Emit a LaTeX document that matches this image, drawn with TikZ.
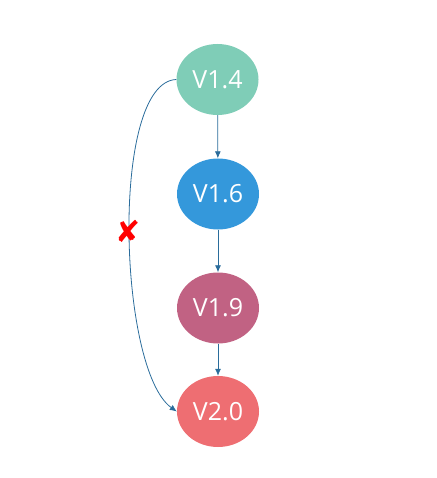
\documentclass[tikz,border=0pt]{standalone}
\usepackage{fontspec}
\setmainfont{Open Sans}
\newfontfamily\symfont{DejaVu Sans}
\usetikzlibrary{shapes.geometric,arrows.meta}
\definecolor{cA}{HTML}{7FCDB7}
\definecolor{cB}{HTML}{3498DB}
\definecolor{cC}{HTML}{C16283}
\definecolor{cD}{HTML}{EE6E72}
\definecolor{edge}{HTML}{2A6C9B}
\begin{document}
\begin{tikzpicture}[x=1pt,y=-1pt,
  ver/.style={ellipse,minimum width=82pt,minimum height=71pt,inner sep=0pt,text=white,font=\fontsize{25}{28}\selectfont},
  conn/.style={draw=edge,line width=0.8pt,-{Latex[length=7pt,width=6pt]}}]
\useasboundingbox (0,0) rectangle (436,478);
\node[ver,fill=cA] (v14) at (217.5,79.5) {V1.4};
\node[ver,fill=cB] (v16) at (218,194) {V1.6};
\node[ver,fill=cC] (v19) at (218,308) {V1.9};
\node[ver,fill=cD] (v20) at (218,411.5) {V2.0};
\draw[conn] (v14) -- (v16);
\draw[conn] (v16) -- (v19);
\draw[conn] (v19) -- (v20);
\draw[conn] (v14.west) .. controls (110,82) and (118,370) .. (v20.west);
\node[text=red,font=\symfont\fontsize{30}{32}\selectfont] (x) at (128,231) {✘};
\end{tikzpicture}
\end{document}
